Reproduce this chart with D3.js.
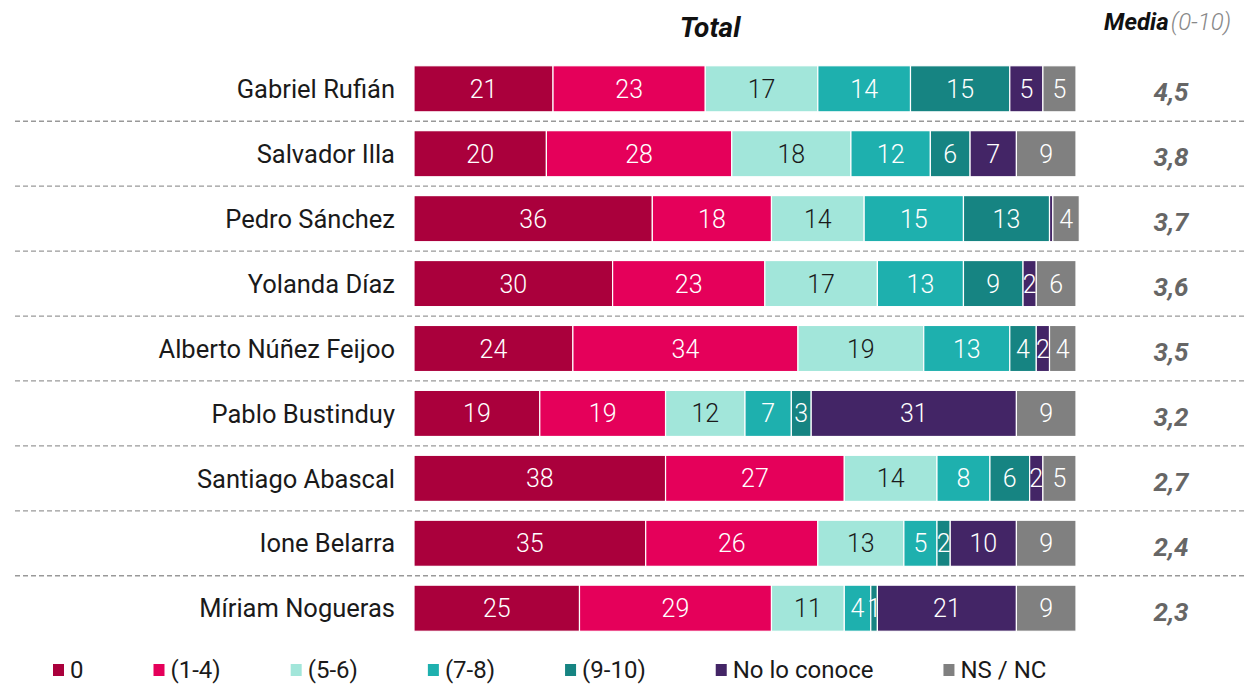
<!DOCTYPE html>
<html><head><meta charset="utf-8">
<script src="https://cdn.jsdelivr.net/npm/d3@7"></script>
<style>
body{margin:0;background:#fff;}
svg{font-family:Roboto, "Noto Sans", sans-serif;}
</style></head>
<body><svg id="c" width="1250" height="685"></svg>
<script>
const people = ["Gabriel Rufián","Salvador Illa","Pedro Sánchez","Yolanda Díaz","Alberto Núñez Feijoo","Pablo Bustinduy","Santiago Abascal","Ione Belarra","Míriam Nogueras"];
const categories = ["0","(1-4)","(5-6)","(7-8)","(9-10)","No lo conoce","NS / NC"];
const s0      = [21,20,36,30,24,19,38,35,25];
const s1_4    = [23,28,18,23,34,19,27,26,29];
const s5_6    = [17,18,14,17,19,12,14,13,11];
const s7_8    = [14,12,15,13,13,7,8,5,4];
const s9_10   = [15,6,13,9,4,3,6,2,1];
const sNoConoce = [5,7,0.5,2,2,31,2,10,21];
const sNSNC   = [5,9,4,6,4,9,5,9,9];
const media   = ["4,5","3,8","3,7","3,6","3,5","3,2","2,7","2,4","2,3"];
const colors  = ["#aa003c","#e5005a","#a2e6da","#1eb0ae","#168482","#432566","#808080"];
const textColors = ["#fff","#fff","#1a1a1a","#fff","#fff","#fff","#fff"];

const seriesList = [s0,s1_4,s5_6,s7_8,s9_10,sNoConoce,sNSNC];
const rows = people.map((p,i)=>{
  const o={name:p};
  categories.forEach((c,j)=>o[c]=seriesList[j][i]);
  return o;
});

const svg = d3.select("#c");
const x = d3.scaleLinear().domain([0,100]).range([414,1076]);
const y = d3.scaleBand().domain(people).range([56,641]).paddingInner(0.29).paddingOuter(0.15);

const stack = d3.stack().keys(categories)(rows);

// separators
for(let i=0;i<people.length-1;i++){
  const yy = (y(people[i])+y.bandwidth() + y(people[i+1]))/2;
  svg.append("line").attr("x1",15).attr("x2",1245).attr("y1",yy).attr("y2",yy)
    .attr("stroke","#999").attr("stroke-width",1.3).attr("stroke-dasharray","5,3");
}

stack.forEach((layer,j)=>{
  const g = svg.append("g");
  g.selectAll("rect").data(layer).join("rect")
    .attr("x",d=>x(d[0])).attr("width",d=>Math.max(0,x(d[1])-x(d[0])))
    .attr("y",d=>y(d.data.name)).attr("height",y.bandwidth())
    .attr("fill",colors[j]).attr("stroke","#fff").attr("stroke-width",1.2);
  g.selectAll("text").data(layer.filter(d=>d[1]-d[0]>=1)).join("text")
    .attr("x",d=>(x(d[0])+x(d[1]))/2).attr("y",d=>y(d.data.name)+y.bandwidth()/2)
    .attr("dy","0.36em").attr("text-anchor","middle")
    .attr("font-size",25).attr("font-weight",300).attr("fill",textColors[j])
    .text(d=>Math.round(d[1]-d[0]));
});

// category labels
svg.append("g").selectAll("text").data(people).join("text")
  .attr("x",395).attr("y",d=>y(d)+y.bandwidth()/2).attr("dy","0.36em")
  .attr("text-anchor","end").attr("font-size",25.5).attr("fill","#1a1a1a").text(d=>d);

// media
svg.append("g").selectAll("text").data(people).join("text")
  .attr("x",1171).attr("y",(d,i)=>y(d)+y.bandwidth()/2+3).attr("dy","0.36em")
  .attr("text-anchor","middle").attr("font-size",26).attr("font-weight",700)
  .attr("font-style","italic").attr("fill","#666").text((d,i)=>media[i]);

// title
svg.append("text").attr("x",710).attr("y",37).attr("text-anchor","middle")
  .attr("font-size",28).attr("font-weight",700).attr("font-style","italic").attr("fill","#111").text("Total");
const mt = svg.append("text").attr("x",1104).attr("y",30).attr("font-size",24).attr("font-style","italic");
mt.append("tspan").attr("font-weight",700).attr("fill","#111").text("Media");
mt.append("tspan").attr("dx",2).attr("fill","#888").attr("font-weight",300).text("(0-10)");

// legend
let lx = 53;
const leg = svg.append("g");
categories.forEach((c,j)=>{
  leg.append("rect").attr("x",lx).attr("y",664).attr("width",11).attr("height",12).attr("fill",colors[j]);
  const t = leg.append("text").attr("x",lx+17).attr("y",669).attr("dy","0.36em")
    .attr("font-size",24).attr("fill","#1a1a1a").text(c);
  lx += 17 + t.node().getComputedTextLength() + 70;
});
</script></body></html>
